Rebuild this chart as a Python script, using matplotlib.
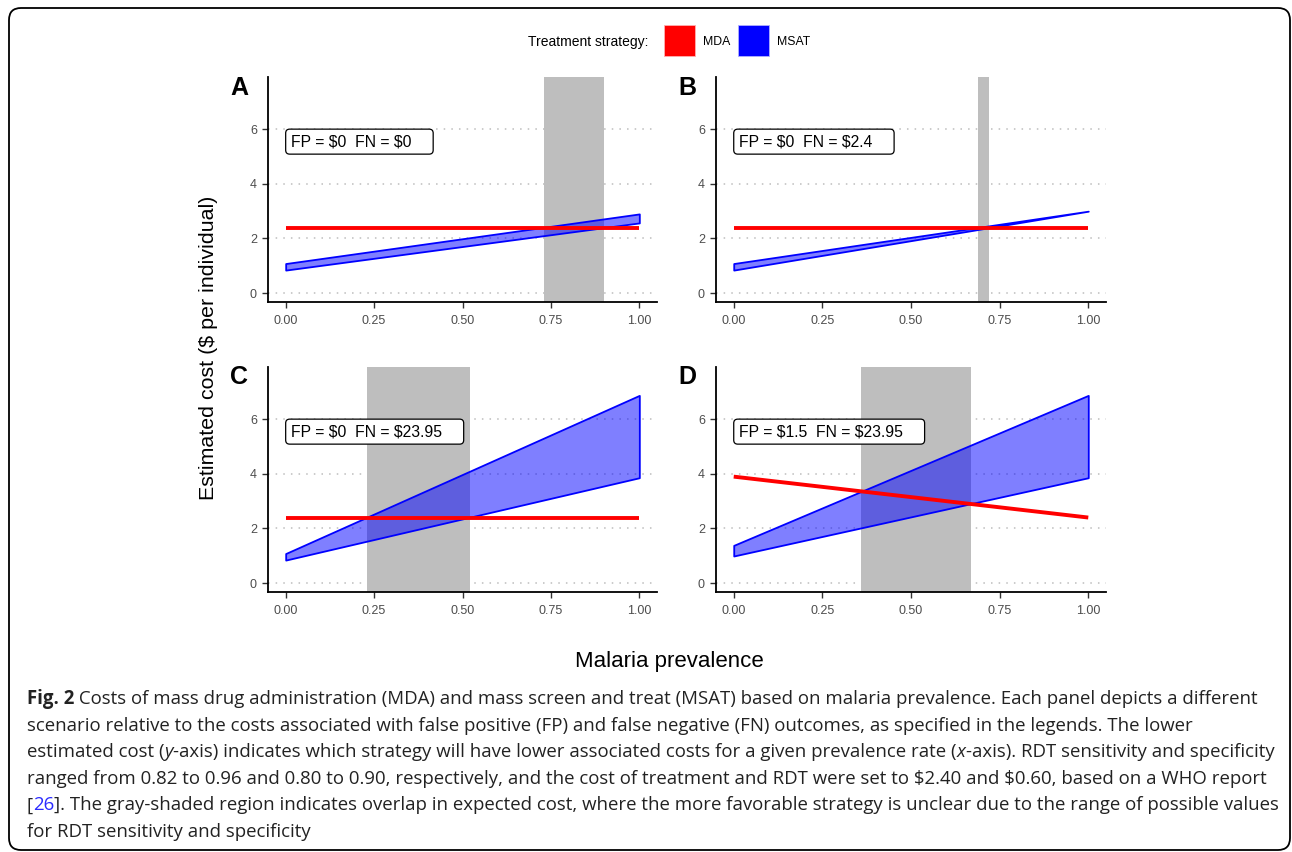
import matplotlib
matplotlib.use("Agg")
from matplotlib import pyplot as plt
from matplotlib.patches import FancyBboxPatch, Rectangle
from matplotlib.transforms import IdentityTransform

W, H = 1292, 852

# values
panels = ["A", "B", "C", "D"]
fp_labels = ["FP = $0  FN = $0", "FP = $0  FN = $2.4",
             "FP = $0  FN = $23.95", "FP = $1.5  FN = $23.95"]
prevalence = [0.0, 1.0]
mda_start = [2.4, 2.4, 2.4, 3.9]
mda_end = [2.4, 2.4, 2.4, 2.4]
msat_low_start = [0.84, 0.84, 0.84, 0.99]
msat_low_end = [2.57, 3.0, 3.86, 3.86]
msat_high_start = [1.08, 1.08, 1.08, 1.38]
msat_high_end = [2.90, 3.0, 6.88, 6.88]
overlap_lo = [0.73, 0.69, 0.23, 0.36]
overlap_hi = [0.90, 0.72, 0.52, 0.67]
x_ticks = [0.0, 0.25, 0.5, 0.75, 1.0]
x_ticklabels = ["0.00", "0.25", "0.50", "0.75", "1.00"]
y_ticks = [0, 2, 4, 6]

caption_lines = [
    [("Fig. 2", {"weight": "bold"}), (" Costs of mass drug administration (MDA) and mass screen and treat (MSAT) based on malaria prevalence. Each panel depicts a different", {})],
    [("scenario relative to the costs associated with false positive (FP) and false negative (FN) outcomes, as specified in the legends. The lower", {})],
    [("estimated cost (", {}), ("y", {"style": "italic"}), ("-axis) indicates which strategy will have lower associated costs for a given prevalence rate (", {}),
     ("x", {"style": "italic"}), ("-axis). RDT sensitivity and specificity", {})],
    [("ranged from 0.82 to 0.96 and 0.80 to 0.90, respectively, and the cost of treatment and RDT were set to $2.40 and $0.60, based on a WHO report", {})],
    [("[", {}), ("26", {"color": "#2a2aff"}), ("]. The gray-shaded region indicates overlap in expected cost, where the more favorable strategy is unclear due to the range of possible values", {})],
    [("for RDT sensitivity and specificity", {})],
]

plt.rcParams['font.family'] = ['Liberation Sans', 'DejaVu Sans']

fig = plt.figure(figsize=(W / 100, H / 100), dpi=100)
renderer = fig.canvas.get_renderer()

# axes boxes in pixels: left, top, right, bottom
boxes = [(268, 77, 657, 302), (716, 77, 1106, 302),
         (268, 367, 657, 592), (716, 367, 1106, 592)]
letter_pos = [(239, 88), (687, 88), (239, 377), (687, 377)]

for i, name in enumerate(panels):
    l, t, r, b = boxes[i]
    ax = fig.add_axes([l / W, 1 - b / H, (r - l) / W, (b - t) / H])
    ax.set_xlim(-0.05, 1.05)
    ax.set_ylim(-0.33, 7.92)
    ax.set_axisbelow(True)
    ax.yaxis.grid(True, color='#bdbdbd', linestyle=(0, (1, 4)), linewidth=1.1)
    ax.axvspan(overlap_lo[i], overlap_hi[i], color='#bebebe', lw=0, zorder=1)
    ax.fill_between(prevalence, [msat_low_start[i], msat_low_end[i]],
                    [msat_high_start[i], msat_high_end[i]],
                    facecolor=(0, 0, 1, 0.5), edgecolor='blue', lw=1.3, zorder=2)
    ax.plot(prevalence, [mda_start[i], mda_end[i]], color='red', lw=2.8,
            solid_capstyle='butt', zorder=3)

    for s in ['top', 'right']:
        ax.spines[s].set_visible(False)
    for s in ['left', 'bottom']:
        ax.spines[s].set_linewidth(1.3)
    ax.set_xticks(x_ticks)
    ax.set_xticklabels(x_ticklabels)
    ax.set_yticks(y_ticks)
    ax.tick_params(length=4, width=1, color='#333333', labelcolor='#4d4d4d', labelsize=9)
    ax.tick_params(axis='x', pad=5)
    ax.tick_params(axis='y', pad=4)

    # scenario label with a box that runs wider than the text
    txt = ax.text(0.0 + 5 / 354.0, 5.55, fp_labels[i], fontsize=11.3, ha='left',
                  va='center', parse_math=False, zorder=6)
    bb = txt.get_window_extent(renderer)
    cy = (bb.y0 + bb.y1) / 2
    box = FancyBboxPatch((bb.x0 - 5, cy - 12.5), bb.width + 27, 25,
                         boxstyle="round,pad=0,rounding_size=4",
                         transform=IdentityTransform(), fc='white', ec='black',
                         lw=0.9, zorder=5)
    ax.add_patch(box)

    fig.text(letter_pos[i][0] / W, 1 - letter_pos[i][1] / H, name, fontsize=18,
             weight='bold', ha='center', va='center')

# legend
fig.text(648 / W, 1 - 42 / H, "Treatment strategy:", fontsize=10, ha='right', va='center')
for x0, col, lab in [(664, 'red', 'MDA'), (738, 'blue', 'MSAT')]:
    fig.add_artist(Rectangle((x0 / W, 1 - 56 / H), 31 / W, 31 / H, transform=fig.transFigure,
                             fc=col, ec='#ffb0b0' if col == 'red' else '#b0b0ff', lw=0.6))
    fig.text((x0 + 39) / W, 1 - 42 / H, lab, fontsize=8.8, ha='left', va='center')

fig.text(208 / W, 1 - 348 / H, "Estimated cost ($ per individual)", fontsize=15.4,
         rotation=90, ha='center', va='center', parse_math=False)
fig.text(669 / W, 1 - 661 / H, "Malaria prevalence", fontsize=16, ha='center', va='center')

# caption
cap_font = ['Open Sans', 'DejaVu Sans']


def text_width(s, size, **kw):
    t = fig.text(0, 0, "|" + s + "|", fontsize=size, family=cap_font, parse_math=False, **kw)
    w1 = t.get_window_extent(renderer).width
    t.set_text("||")
    w2 = t.get_window_extent(renderer).width
    t.remove()
    return w1 - w2


first = caption_lines[0]
w_first = sum(text_width(s, 12, **kw) for s, kw in first)
cap_size = 12 * (1250 - 27) / w_first

y = 699
for line in caption_lines:
    x = 27
    for s, kw in line:
        style = {'color': '#222222'}
        style.update(kw)
        fig.text(x / W, 1 - (y + 5) / H, s, fontsize=cap_size, family=cap_font,
                 va='baseline', ha='left', parse_math=False, **style)
        x += text_width(s, cap_size, **kw)
    y += 26.6

border = FancyBboxPatch((9, 2), 1281, 842, boxstyle="round,pad=0,rounding_size=12",
                        transform=IdentityTransform(), fc='none', ec='black', lw=1.3)
fig.add_artist(border)

fig.savefig('out.png', dpi=100)
